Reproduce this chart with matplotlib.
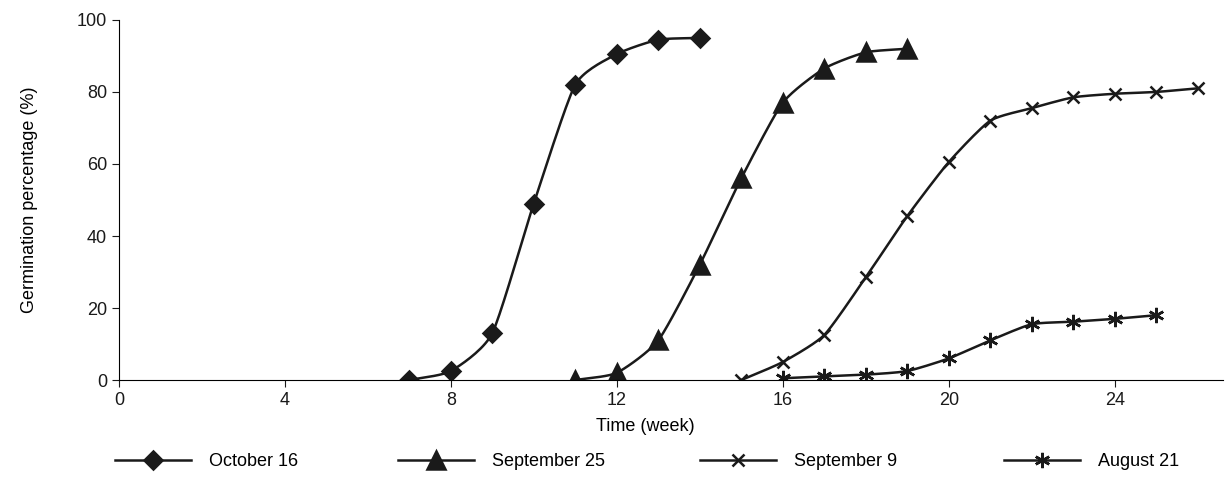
import matplotlib.pyplot as plt
import numpy as np

plt.rcParams['font.family'] = ['Liberation Sans', 'DejaVu Sans']

# data
weeks_oct16 = [7, 8, 9, 10, 11, 12, 13, 14]
germ_oct16 = [0, 2.5, 13, 49, 82, 90.5, 94.5, 95]

weeks_sep25 = [11, 12, 13, 14, 15, 16, 17, 18, 19]
germ_sep25 = [0, 2, 11, 32, 56, 77, 86.5, 91, 92]

weeks_sep9 = [15, 16, 17, 18, 19, 20, 21, 22, 23, 24, 25, 26]
germ_sep9 = [0, 5, 12.5, 28.5, 45.5, 60.5, 72, 75.5, 78.5, 79.5, 80, 81]

weeks_aug21 = [16, 17, 18, 19, 20, 21, 22, 23, 24, 25]
germ_aug21 = [0.5, 1, 1.5, 2.5, 6, 11, 15.5, 16.2, 17, 18]

labels = ["October 16", "September 25", "September 9", "August 21"]
markers = ["D", "^", "x", (6, 2, 0)]
msizes = [9, 13, 9, 11]
legend_x = [115, 398, 700, 1004]  # pixel where each legend entry starts


def smooth(x, y, n=20, s=0.6):
    # hermite curve through the points, tangents shortened a bit
    x = np.asarray(x, float)
    y = np.asarray(y, float)
    px = np.concatenate([[2 * x[0] - x[1]], x, [2 * x[-1] - x[-2]]])
    py = np.concatenate([[2 * y[0] - y[1]], y, [2 * y[-1] - y[-2]]])
    xs, ys = [], []
    t = np.linspace(0, 1, n)
    h00 = 2 * t ** 3 - 3 * t ** 2 + 1
    h10 = t ** 3 - 2 * t ** 2 + t
    h01 = -2 * t ** 3 + 3 * t ** 2
    h11 = t ** 3 - t ** 2
    for i in range(1, len(px) - 2):
        for p, out in ((px, xs), (py, ys)):
            m1 = s * (p[i + 1] - p[i - 1]) / 2
            m2 = s * (p[i + 2] - p[i]) / 2
            out.extend(h00 * p[i] + h10 * m1 + h01 * p[i + 1] + h11 * m2)
    return np.array(xs), np.array(ys)


fig = plt.figure(figsize=(12.25, 4.86), dpi=100)
ax = fig.add_axes([0.097, 0.218, 0.901, 0.741])

series = [(weeks_oct16, germ_oct16), (weeks_sep25, germ_sep25),
          (weeks_sep9, germ_sep9), (weeks_aug21, germ_aug21)]
for (x, y), lab, m, ms, lx in zip(series, labels, markers, msizes, legend_x):
    sx, sy = smooth(x, y)
    ax.plot(sx, sy, color='#1a1a1a', lw=1.8)
    ax.plot(x, y, ls='none', marker=m, ms=ms, color='#1a1a1a', mew=1.8)
    h, = ax.plot([], [], color='#1a1a1a', lw=1.8, marker=m, ms=ms, mew=1.8, label=lab)
    fig.legend(handles=[h], loc='center left', bbox_to_anchor=(lx / 1225, 0.05),
               frameon=False, fontsize=13, handlelength=4.2, handletextpad=1.0,
               borderpad=0, borderaxespad=0)

ax.set_xlim(0, 26.6)
ax.set_ylim(0, 100)
ax.set_xticks([0, 4, 8, 12, 16, 20, 24])
ax.set_yticks([0, 20, 40, 60, 80, 100])
ax.spines['top'].set_visible(False)
ax.spines['right'].set_visible(False)
ax.tick_params(direction='out', length=5, labelsize=13, colors='#1a1a1a')
ax.set_xlabel("Time (week)", fontsize=13)
ax.xaxis.set_label_coords(0.477, -0.105)
ax.set_ylabel("Germination percentage (%)", fontsize=13, labelpad=28)

fig.savefig("out.png", dpi=100)
